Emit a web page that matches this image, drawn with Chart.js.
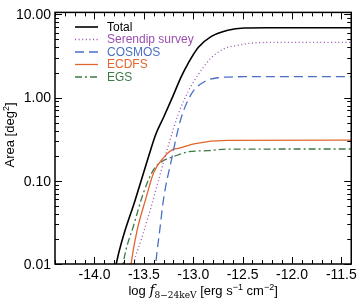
<!DOCTYPE html>
<html>
<head>
<meta charset="utf-8">
<script src="https://cdn.jsdelivr.net/npm/chart.js@4.4.1/dist/chart.umd.min.js"></script>
<style>
  html, body { margin: 0; padding: 0; background: #fff; }
  #wrap { width: 360px; height: 301px; }
</style>
</head>
<body>
<div id="wrap"><canvas id="areaChart"></canvas></div>
<script>
// log flux (x) and survey area in deg^2 (y)
const totalFlux = [-13.82, -13.78, -13.58, -13.45, -13.38, -13.30, -13.22, -13.12, -13.05, -12.95, -12.82, -12.65, -12.48, -12.25, -11.4];
const totalArea = [0.005, 0.01, 0.063, 0.2, 0.36, 0.58, 0.95, 1.8, 2.6, 4.0, 5.4, 6.45, 6.85, 6.9, 6.9];

const serendipFlux = [-13.64, -13.60, -13.53, -13.43, -13.33, -13.25, -13.15, -13.05, -12.95, -12.82, -12.68, -12.55, -12.42, -12.15, -11.4];
const serendipArea = [0.005, 0.0103, 0.019, 0.047, 0.126, 0.27, 0.64, 1.19, 1.88, 2.98, 3.9, 4.23, 4.5, 4.6, 4.6];

const cosmosFlux = [-13.40, -13.38, -13.34, -13.30, -13.22, -13.13, -13.02, -12.90, -12.75, -12.48, -11.4];
const cosmosArea = [0.005, 0.01, 0.025, 0.061, 0.18, 0.53, 1.10, 1.52, 1.73, 1.78, 1.78];

const ecdfsFlux = [-13.66, -13.63, -13.57, -13.48, -13.40, -13.30, -13.20, -13.15, -12.98, -12.65, -11.4];
const ecdfsArea = [0.005, 0.01, 0.025, 0.061, 0.126, 0.19, 0.24, 0.245, 0.28, 0.305, 0.308];

const egsFlux = [-13.74, -13.71, -13.60, -13.50, -13.40, -13.30, -13.20, -13.05, -12.85, -12.65, -11.4];
const egsArea = [0.005, 0.01, 0.030, 0.074, 0.137, 0.175, 0.195, 0.223, 0.23, 0.24, 0.241];

const xTicks = [-14.0, -13.5, -13.0, -12.5, -12.0, -11.5];
const yTicks = [0.01, 0.1, 1, 10];

const seriesNames = ["Total", "Serendip survey", "COSMOS", "ECDFS", "EGS"];
const seriesColors = ["#000000", "#9b4fb0", "#4a6fc4", "#e0652f", "#3e7a48"];
const seriesDash = [[], [1, 2.6], [9, 5], [], [7, 3, 2, 3]];

const pairs = (xs, ys) => xs.map((v, i) => ({x: v, y: ys[i]}));
const seriesData = [
    pairs(totalFlux, totalArea),
    pairs(serendipFlux, serendipArea),
    pairs(cosmosFlux, cosmosArea),
    pairs(ecdfsFlux, ecdfsArea),
    pairs(egsFlux, egsArea)
];

let datasets = []
seriesData.forEach((d, i) => {
    datasets.push({
        label: seriesNames[i],
        data: d,
        borderColor: seriesColors[i],
        borderWidth: i === 0 ? 1.6 : 1.3,
        borderDash: seriesDash[i],
        pointRadius: 0,
        fill: false,
        cubicInterpolationMode: "monotone"
    })
})

// axis box with inward ticks on all four sides, legend and axis titles
const framePlugin = {
    id: "frame",
    afterDatasetsDraw(chart) {
        const ctx = chart.ctx;
        const {left, right, top, bottom} = chart.chartArea;
        const xs = chart.scales.x, ys = chart.scales.y;
        ctx.save();
        ctx.strokeStyle = "#000";
        ctx.lineWidth = 1.5;
        ctx.strokeRect(left, top, right - left, bottom - top);

        ctx.lineWidth = 1;
        ctx.beginPath();
        for (let i = -144; i <= -114; i++) {
            const px = Math.round(xs.getPixelForValue(i / 10)) + 0.5;
            const len = i % 5 === 0 ? 7 : 4;
            ctx.moveTo(px, bottom); ctx.lineTo(px, bottom - len);
            ctx.moveTo(px, top); ctx.lineTo(px, top + len);
        }
        for (let e = -2; e <= 1; e++) {
            for (let m = 1; m <= 9; m++) {
                const v = m * Math.pow(10, e);
                if (v < ys.min || v > ys.max) continue;
                const py = Math.round(ys.getPixelForValue(v)) + 0.5;
                const len = m === 1 ? 7 : 4;
                ctx.moveTo(left, py); ctx.lineTo(left + len, py);
                ctx.moveTo(right, py); ctx.lineTo(right - len, py);
            }
        }
        ctx.stroke();

        // legend
        const rows = [27, 39.5, 52, 64.5, 77];
        ctx.font = "12px 'Liberation Sans', Arial, sans-serif";
        ctx.textBaseline = "middle";
        seriesNames.forEach((name, i) => {
            ctx.beginPath();
            ctx.strokeStyle = seriesColors[i];
            ctx.lineWidth = i === 0 ? 1.6 : 1.3;
            ctx.setLineDash(seriesDash[i]);
            ctx.moveTo(75, rows[i]); ctx.lineTo(98, rows[i]);
            ctx.stroke();
            ctx.setLineDash([]);
            ctx.fillStyle = seriesColors[i];
            ctx.fillText(name, 107, rows[i] + 0.5);
        });

        // x title
        const segs = [
            {t: "log ", f: "13px 'Liberation Sans', Arial, sans-serif", dy: 0},
            {t: "f", f: "italic 14px 'DejaVu Serif', serif", dy: 0},
            {t: "8\u221224keV", f: "9px 'DejaVu Serif', serif", dy: 3},
            {t: " [erg s", f: "13px 'Liberation Sans', Arial, sans-serif", dy: 0},
            {t: "\u22121", f: "9px 'Liberation Sans', Arial, sans-serif", dy: -5},
            {t: " cm", f: "13px 'Liberation Sans', Arial, sans-serif", dy: 0},
            {t: "\u22122", f: "9px 'Liberation Sans', Arial, sans-serif", dy: -5},
            {t: "]", f: "13px 'Liberation Sans', Arial, sans-serif", dy: 0}
        ];
        ctx.fillStyle = "#000";
        ctx.textBaseline = "alphabetic";
        let w = 0;
        segs.forEach(s => { ctx.font = s.f; w += ctx.measureText(s.t).width; });
        let cx = (left + right) / 2 - w / 2;
        segs.forEach(s => {
            ctx.font = s.f;
            ctx.fillText(s.t, cx, 295 + s.dy);
            cx += ctx.measureText(s.t).width;
        });

        // y title
        ctx.translate(14, 135);
        ctx.rotate(-Math.PI / 2);
        const ysegs = [
            {t: "Area [deg", f: "13px 'Liberation Sans', Arial, sans-serif", dy: 0},
            {t: "2", f: "9px 'Liberation Sans', Arial, sans-serif", dy: -5},
            {t: "]", f: "13px 'Liberation Sans', Arial, sans-serif", dy: 0}
        ];
        w = 0;
        ysegs.forEach(s => { ctx.font = s.f; w += ctx.measureText(s.t).width; });
        cx = -w / 2;
        ysegs.forEach(s => {
            ctx.font = s.f;
            ctx.fillText(s.t, cx, s.dy);
            cx += ctx.measureText(s.t).width;
        });
        ctx.restore();
    }
}

const areaChart = new Chart(document.getElementById("areaChart"), {
    type: "line",
    data: {datasets: datasets},
    options: {
        responsive: true,
        maintainAspectRatio: false,
        animation: false,
        layout: {padding: {top: 6, right: 6, left: 0, bottom: 0}},
        plugins: {legend: {display: false}, tooltip: {enabled: false}},
        scales: {
            x: {
                type: "linear",
                min: -14.4,
                max: -11.4,
                grid: {display: false, drawTicks: false},
                border: {display: false},
                afterBuildTicks: s => { s.ticks = xTicks.map(v => ({value: v})); },
                afterFit: s => { s.height = 37; },
                ticks: {
                    color: "#000",
                    padding: 3,
                    maxRotation: 0,
                    font: {family: "'Liberation Sans', Arial, sans-serif", size: 14},
                    callback: v => v.toFixed(1)
                }
            },
            y: {
                type: "logarithmic",
                min: 0.01,
                max: 10.55,
                grid: {display: false, drawTicks: false},
                border: {display: false},
                afterBuildTicks: s => { s.ticks = yTicks.map(v => ({value: v})); },
                afterFit: s => { s.width = 55; },
                ticks: {
                    color: "#000",
                    padding: 4,
                    labelOffset: 1,
                    font: {family: "'Liberation Sans', Arial, sans-serif", size: 14},
                    callback: v => Number(v).toFixed(2)
                }
            }
        }
    },
    plugins: [framePlugin]
})
</script>
</body>
</html>
